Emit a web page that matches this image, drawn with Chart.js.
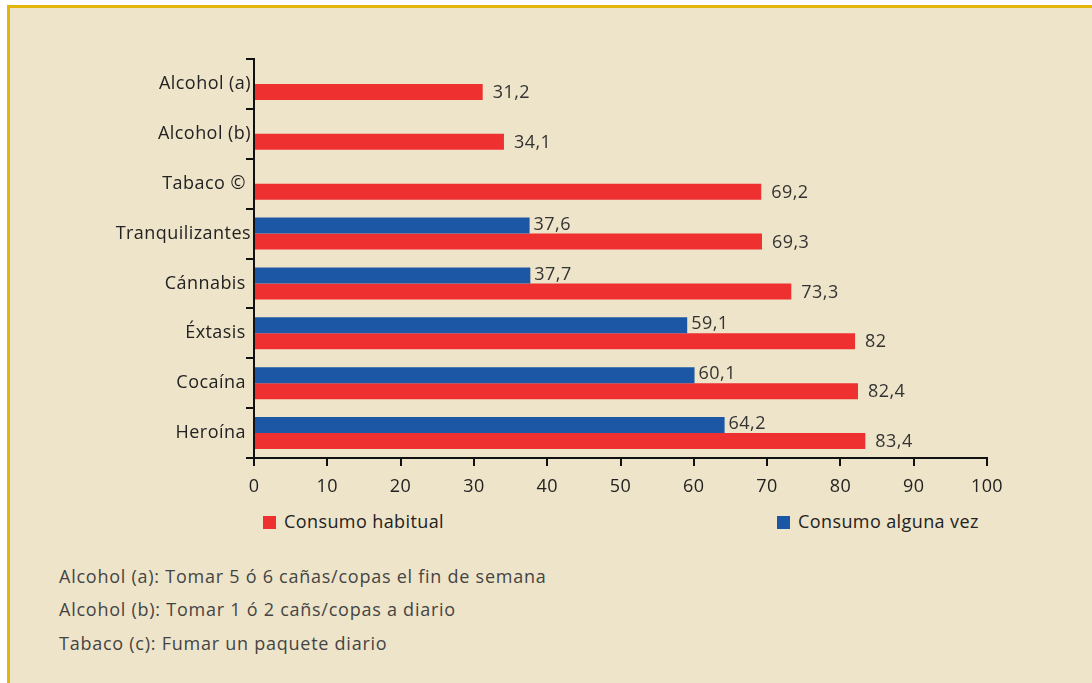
<!DOCTYPE html>
<html>
<head>
<meta charset="utf-8">
<script src="https://cdn.jsdelivr.net/npm/chart.js"></script>
<style>
  html, body { margin: 0; padding: 0; background: #fff; }
  body { width: 1092px; height: 683px; position: relative; overflow: hidden; font-family: "Open Sans", sans-serif; }
  #panel { position: absolute; left: 7px; top: 5px; right: 0; bottom: 0; background: #EEE4C9; border-top: 3px solid #E2B60C; border-left: 3px solid #E2B60C; }
  #wrap { position: absolute; left: 0; top: 0; width: 1092px; height: 500px; }
  .leg { position: absolute; top: 510px; font-size: 18px; color: #222; line-height: 22px; letter-spacing: 0.4px; }
  .leg span { display: inline-block; width: 13px; height: 13px; margin-right: 8px; vertical-align: -1px; }
  .note { position: absolute; left: 59px; font-size: 18px; color: #444; line-height: 22px; letter-spacing: 0.75px; }
</style>
</head>
<body>
<div id="panel"></div>
<div id="wrap"><canvas id="chart" width="1092" height="500"></canvas></div>
<div class="leg" style="left:263px"><span style="background:#EE3030"></span>Consumo habitual</div>
<div class="leg" style="left:777px"><span style="background:#1C57A5"></span>Consumo alguna vez</div>
<div class="note" style="top:565px">Alcohol (a): Tomar 5 ó 6 cañas/copas el fin de semana</div>
<div class="note" style="top:598px">Alcohol (b): Tomar 1 ó 2 cañs/copas a diario</div>
<div class="note" style="top:632px">Tabaco (c): Fumar un paquete diario</div>
<script>
const categories = ['Alcohol (a)', 'Alcohol (b)', 'Tabaco © ', 'Tranquilizantes', 'Cánnabis ', 'Éxtasis ', 'Cocaína ', 'Heroína '];
const algunaVez = [null, null, null, 37.6, 37.7, 59.1, 60.1, 64.2];
const habitual = [31.2, 34.1, 69.2, 69.3, 73.3, 82, 82.4, 83.4];
const xTicks = [0, 10, 20, 30, 40, 50, 60, 70, 80, 90, 100];

const fmt = v => String(v).replace('.', ',');
const FONT = '"Open Sans", sans-serif';

// a bit of tracking so Open Sans gets closer to the original typeface
const spacing = {
  id: 'spacing',
  beforeDraw(chart) { chart.ctx.letterSpacing = '0.45px'; }
};

// value labels next to the bar ends
const valueLabels = {
  id: 'valueLabels',
  afterDatasetsDraw(chart) {
    const ctx = chart.ctx;
    ctx.save();
    ctx.font = '18px ' + FONT;
    ctx.fillStyle = '#333';
    ctx.textBaseline = 'middle';
    chart.data.datasets.forEach((ds, i) => {
      const meta = chart.getDatasetMeta(i);
      meta.data.forEach((el, j) => {
        const v = ds.data[j];
        if (v == null) return;
        const gap = i === 0 ? 4 : 10;
        ctx.fillText(fmt(v), el.x + gap, el.y + (i === 0 ? -1 : 1));
      });
    });
    ctx.restore();
  }
};

new Chart(document.getElementById('chart'), {
  type: 'bar',
  data: {
    labels: categories,
    datasets: [
      { label: 'Consumo alguna vez', data: algunaVez, backgroundColor: '#1C57A5', barPercentage: 1, categoryPercentage: 0.64 },
      { label: 'Consumo habitual', data: habitual, backgroundColor: '#EE3030', barPercentage: 1, categoryPercentage: 0.64 }
    ]
  },
  options: {
    indexAxis: 'y',
    responsive: false,
    animation: false,
    layout: { padding: { top: 59, right: 105, left: 0, bottom: 0 } },
    plugins: { legend: { display: false }, tooltip: { enabled: false } },
    scales: {
      y: {
        afterFit: s => { s.width = 254; },
        grid: { drawOnChartArea: false, tickLength: 8, color: '#111', lineWidth: 2 },
        border: { color: '#111', width: 2 },
        ticks: { color: '#222', font: { family: FONT, size: 18 }, padding: -5 }
      },
      x: {
        min: 0, max: 100,
        afterFit: s => { s.height = 42; },
        afterBuildTicks: s => { s.ticks = xTicks.map(v => ({ value: v })); },
        grid: { drawOnChartArea: false, tickLength: 8, color: '#111', lineWidth: 2 },
        border: { color: '#111', width: 2 },
        ticks: { color: '#222', font: { family: FONT, size: 18 }, padding: 10 }
      }
    }
  },
  plugins: [spacing, valueLabels]
});
</script>
</body>
</html>
